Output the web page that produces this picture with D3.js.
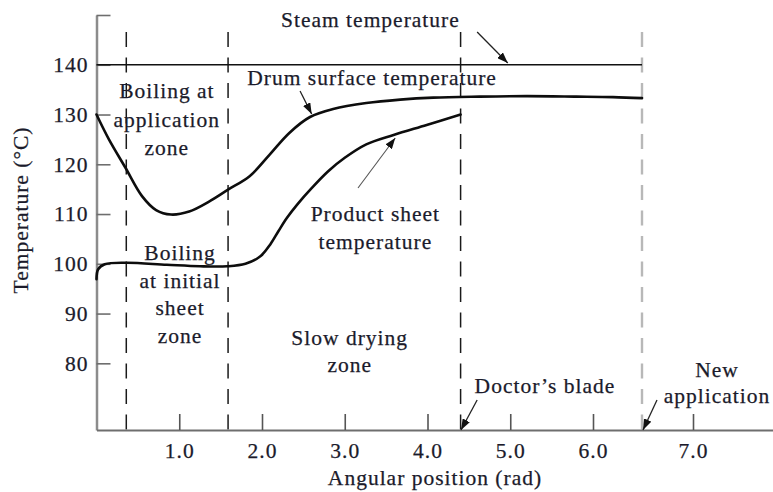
<!DOCTYPE html>
<html>
<head>
<meta charset="utf-8">
<script src="https://cdn.jsdelivr.net/npm/d3@7"></script>
<style>
  html, body { margin: 0; padding: 0; background: #fff; }
  svg { display: block; }
  text { font-family: 'Liberation Serif', 'Times New Roman', serif; }
</style>
</head>
<body>
<svg id="chart" width="773" height="492"></svg>
<script>
// Drum surface temperature along the drum (angle in rad, temperature in °C)
const drumAngle = [0, 0.15, 0.35, 0.55, 0.72, 0.9, 1.12, 1.36, 1.59, 1.85, 2.09, 2.33, 2.58, 2.86, 3.26, 3.67, 4.07, 4.63, 5.2, 5.8, 6.2, 6.49];
const drumTemp  = [130, 125, 119.3, 113.6, 110.8, 109.9, 110.5, 112.5, 114.9, 117.6, 121.9, 126.3, 129.5, 131.1, 132.3, 133.0, 133.4, 133.6, 133.7, 133.6, 133.5, 133.3];

// Product sheet temperature, from application to the doctor's blade
const sheetAngle = [0, 0.02, 0.1, 0.36, 0.85, 1.25, 1.58, 1.8, 1.98, 2.1, 2.2, 2.3, 2.43, 2.6, 2.8, 3.0, 3.26, 3.59, 3.99, 4.4];
const sheetTemp  = [96.9, 98.9, 99.9, 100.2, 99.8, 99.5, 99.5, 100.0, 101.5, 103.9, 106.6, 109.2, 112.0, 115.2, 118.6, 121.3, 124.0, 125.9, 127.9, 130.0];

// Steam temperature inside the drum, held over one revolution
const steamTemp = 140;
const steamSpan = [0, 6.49];

// Zone boundaries (rad): end of boiling at application, end of initial boiling,
// doctor's blade, new application
const zoneBounds = [0.36, 1.59, 4.4, 6.49];

const xTicks = [1, 2, 3, 4, 5, 6, 7];
const yTicks = [80, 90, 100, 110, 120, 130, 140, 150];

const ink = "#1b1b2b";
const fontSize = 21.5;
const tracking = 1.0;

const svg = d3.select("#chart");
svg.append("rect").attr("width", 773).attr("height", 492).attr("fill", "#fff");

const x = d3.scaleLinear().domain([0, 6, 7.8]).range([96.5, 593, 773]);
const y = d3.scaleLinear().domain([66.6, 150]).range([430, 15]);

// Arrowhead marker
const defs = svg.append("defs");
defs.append("marker")
  .attr("id", "head")
  .attr("markerUnits", "userSpaceOnUse")
  .attr("markerWidth", 12).attr("markerHeight", 8)
  .attr("refX", 11).attr("refY", 4)
  .attr("orient", "auto")
  .append("path").attr("d", "M0,0 L11,4 L0,8 Z").attr("fill", "#111");

// Zone boundaries
svg.append("g").selectAll("line")
  .data(zoneBounds)
  .join("line")
  .attr("x1", d => x(d)).attr("x2", d => x(d))
  .attr("y1", y(146.6)).attr("y2", y(66.6))
  .attr("stroke", (d, i) => i === zoneBounds.length - 1 ? "#b8b8b8" : "#1a1a1a")
  .attr("stroke-width", (d, i) => i === zoneBounds.length - 1 ? 2.4 : 1.5)
  .attr("stroke-dasharray", "15,10.5");

// Shared text styling
function styleText(sel) {
  sel.attr("fill", ink).attr("font-size", fontSize)
    .attr("font-family", "'Liberation Serif', 'Times New Roman', serif")
    .attr("letter-spacing", tracking)
    .attr("stroke", ink).attr("stroke-width", 0.25);
}

// Axes
const yAxis = svg.append("g")
  .attr("transform", `translate(${x(0)},0)`)
  .call(d3.axisLeft(y).tickValues(yTicks).tickSize(-14).tickSizeOuter(0).tickPadding(8)
    .tickFormat(d => d === 150 ? "" : d));
yAxis.select(".domain").attr("stroke", "#8c8c8c").attr("stroke-width", 2.5);
yAxis.selectAll(".tick line").attr("stroke", "#6e6e6e").attr("stroke-width", 1.6);
yAxis.selectAll("text").call(styleText);

const xAxis = svg.append("g")
  .attr("transform", `translate(0,${y(66.6)})`)
  .call(d3.axisBottom(x).tickValues(xTicks).tickSize(-16).tickSizeOuter(0).tickPadding(13)
    .tickFormat(d3.format(".1f")));
xAxis.select(".domain").attr("stroke", "#6e6e6e").attr("stroke-width", 2.2);
xAxis.selectAll(".tick line").attr("stroke", "#555").attr("stroke-width", 1.6);
xAxis.selectAll("text").call(styleText);

// Steam temperature line
svg.append("line")
  .attr("x1", x(steamSpan[0])).attr("x2", x(steamSpan[1]))
  .attr("y1", y(steamTemp)).attr("y2", y(steamTemp))
  .attr("stroke", "#111").attr("stroke-width", 1.6);

// Temperature curves
const line = d3.line().x(d => x(d[0])).y(d => y(d[1])).curve(d3.curveCatmullRom.alpha(0.5));
svg.append("path")
  .datum(d3.zip(drumAngle, drumTemp))
  .attr("d", line).attr("fill", "none").attr("stroke", "#0d0d0d").attr("stroke-width", 2.6)
  .attr("stroke-linecap", "round");
svg.append("path")
  .datum(d3.zip(sheetAngle, sheetTemp))
  .attr("d", line).attr("fill", "none").attr("stroke", "#0d0d0d").attr("stroke-width", 2.6)
  .attr("stroke-linecap", "round");

// Annotation arrows (tail -> tip, in rad / °C)
const arrows = [
  { from: [4.60, 146.58], to: [4.97, 140.35], color: "#222", w: 1.3 },
  { from: [2.46, 134.73], to: [2.60, 130.11], color: "#222", w: 1.3 },
  { from: [3.16, 115.23], to: [3.61, 125.28], color: "#555", w: 1.1 },
  { from: [4.60, 72.63], to: [4.405, 66.6], color: "#222", w: 1.3 },
  { from: [6.64, 72.63], to: [6.50, 66.6], color: "#222", w: 1.3 }
];
svg.append("g").selectAll("line")
  .data(arrows)
  .join("line")
  .attr("x1", d => x(d.from[0])).attr("y1", d => y(d.from[1]))
  .attr("x2", d => x(d.to[0])).attr("y2", d => y(d.to[1]))
  .attr("stroke", d => d.color).attr("stroke-width", d => d.w)
  .attr("marker-end", "url(#head)");

// Text annotations: centre angle, first baseline temperature, line spacing (px)
const notes = [
  { lines: ["Steam temperature"], at: [3.31, 147.59], lead: 0 },
  { lines: ["Drum surface temperature"], at: [3.33, 135.93], lead: 0 },
  { lines: ["Boiling at", "application", "zone"], at: [0.85, 133.32], lead: 28.5 },
  { lines: ["Boiling", "at initial", "sheet", "zone"], at: [1.01, 100.76], lead: 27.7 },
  { lines: ["Product sheet", "temperature"], at: [3.37, 108.6], lead: 28 },
  { lines: ["Slow drying", "zone"], at: [3.06, 83.68], lead: 27 },
  { lines: ["Doctor\u2019s blade"], at: [5.42, 74.04], lead: 0 },
  { lines: ["New", "application"], at: [7.24, 77.25], lead: 26 }
];
const noteG = svg.append("g");
notes.forEach(n => {
  const t = noteG.append("text")
    .attr("x", x(n.at[0])).attr("y", y(n.at[1]))
    .attr("text-anchor", "middle")
    .call(styleText);
  n.lines.forEach((s, i) => {
    t.append("tspan").attr("x", x(n.at[0])).attr("dy", i === 0 ? 0 : n.lead).text(s);
  });
});

// Axis titles
svg.append("text")
  .attr("x", 435).attr("y", 485)
  .attr("text-anchor", "middle")
  .call(styleText)
  .text("Angular position (rad)");
svg.append("text")
  .attr("transform", "translate(28,210) rotate(-90)")
  .attr("text-anchor", "middle")
  .call(styleText)
  .text("Temperature (\u00B0C)");
</script>
</body>
</html>
